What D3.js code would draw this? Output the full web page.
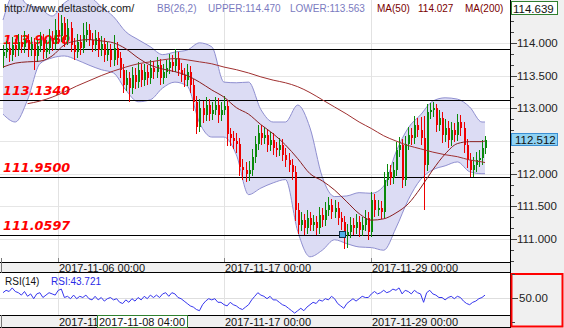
<!DOCTYPE html>
<html><head><meta charset="utf-8">
<script src="https://cdn.jsdelivr.net/npm/d3@7"></script>
<style>
html,body{margin:0;padding:0;background:#fff;}
svg{display:block;font-family:"Liberation Sans",Arial,sans-serif;}
</style></head><body>
<svg id="c" width="564" height="328"></svg>
<script>
// ---------- DATA ----------
const opens=[113.80,113.86,113.92,113.82,113.97,113.89,114.02,113.94,114.05,113.89,
113.98,113.80,113.95,114.05,113.86,113.92,114.08,113.98,114.20,114.11,
114.30,114.05,114.23,113.97,113.86,114.02,113.92,114.12,114.20,114.05,
113.97,114.08,113.89,113.98,113.82,113.89,113.74,113.92,113.77,113.59,
113.36,113.46,113.31,113.51,113.40,113.59,113.43,113.56,113.46,113.62,
113.56,113.66,113.46,113.56,113.62,113.71,113.65,113.77,113.59,113.51,
113.43,113.56,113.36,113.10,112.72,113.01,112.90,113.05,112.92,112.98,
113.05,112.90,112.98,113.03,112.60,112.55,112.50,112.45,112.10,112.05,
112.00,112.06,112.25,112.45,112.62,112.55,112.59,112.44,112.52,112.39,
112.36,112.44,112.29,112.21,112.13,112.03,111.45,111.22,111.29,111.17,
111.32,111.22,111.26,111.17,111.37,111.29,111.45,111.52,111.42,111.48,
111.32,111.26,111.06,111.11,111.22,111.17,111.26,111.14,111.22,111.32,
111.11,111.60,111.45,111.48,111.42,111.91,112.03,111.94,112.06,112.36,
112.44,111.90,112.45,112.59,112.55,112.75,112.67,112.55,112.13,112.94,
112.98,113.01,112.75,112.85,112.59,112.70,112.52,112.67,112.59,112.79,
112.70,112.44,112.21,112.06,112.13,112.21,112.24,112.39];
const highs=[113.96,114.03,114.01,114.09,114.06,114.14,114.12,114.18,114.14,114.09,
114.07,114.05,114.16,114.14,114.04,114.21,114.18,114.36,114.45,114.43,
114.40,114.37,114.32,114.07,114.14,114.12,114.30,114.32,114.29,114.15,
114.20,114.17,114.10,114.07,114.01,113.98,114.12,114.02,113.86,113.68,
113.58,113.55,113.63,113.61,113.71,113.68,113.68,113.66,113.74,113.72,
113.78,113.75,113.67,113.74,113.83,113.81,113.90,113.86,113.69,113.61,
113.67,113.65,113.45,113.19,113.14,113.11,113.18,113.14,113.10,113.17,
113.15,113.10,113.19,113.12,112.70,112.66,112.62,112.54,112.22,112.18,
112.20,112.37,112.58,112.75,112.74,112.72,112.69,112.64,112.62,112.49,
112.55,112.53,112.39,112.31,112.23,112.12,111.55,111.41,111.39,111.44,
111.42,111.37,111.36,111.49,111.47,111.57,111.64,111.62,111.60,111.57,
111.42,111.35,111.23,111.34,111.32,111.38,111.35,111.34,111.44,111.41,
111.72,111.69,111.60,111.58,112.03,112.15,112.13,112.18,112.48,112.56,
112.53,112.57,112.72,112.70,112.88,112.85,112.86,112.88,113.06,113.08,
113.10,113.07,112.98,112.94,112.83,112.80,112.79,112.77,112.92,112.89,
112.79,112.53,112.31,112.25,112.33,112.36,112.51,112.58];
const lows=[113.62,113.77,113.70,113.73,113.78,113.80,113.84,113.85,113.79,113.80,
113.59,113.71,113.86,113.76,113.77,113.83,113.88,113.89,113.99,114.02,
113.94,113.96,113.86,113.74,113.77,113.82,113.84,114.02,113.95,113.86,
113.88,113.79,113.80,113.71,113.72,113.63,113.65,113.66,113.47,113.24,
113.26,113.10,113.22,113.30,113.31,113.32,113.34,113.36,113.37,113.45,
113.47,113.35,113.37,113.47,113.53,113.55,113.56,113.49,113.40,113.32,
113.34,113.24,112.96,112.60,112.63,112.78,112.81,112.80,112.82,112.89,
112.78,112.80,112.89,112.42,112.42,112.38,112.32,111.96,111.90,111.88,
111.89,111.97,112.16,112.36,112.44,112.46,112.33,112.35,112.29,112.25,
112.27,112.19,112.10,112.02,111.91,111.28,111.08,111.12,111.06,111.08,
111.12,111.13,111.06,111.08,111.18,111.20,111.35,111.31,111.32,111.21,
111.14,110.85,110.86,111.01,111.06,111.08,111.03,111.05,111.12,110.99,
111.03,111.34,111.35,111.30,111.33,111.81,111.83,111.85,111.97,112.26,
111.78,111.81,112.36,112.44,112.46,112.56,112.44,111.45,112.04,112.83,
112.87,112.63,112.65,112.47,112.49,112.40,112.43,112.48,112.50,112.58,
112.32,112.09,111.95,111.95,112.03,112.10,112.14,112.30];
const closes=[113.86,113.92,113.82,113.97,113.89,114.02,113.94,114.05,113.89,113.98,
113.80,113.95,114.05,113.86,113.92,114.08,113.98,114.20,114.11,114.30,
114.05,114.23,113.97,113.86,114.02,113.92,114.12,114.20,114.05,113.97,
114.08,113.89,113.98,113.82,113.89,113.74,113.92,113.77,113.59,113.36,
113.46,113.31,113.51,113.40,113.59,113.43,113.56,113.46,113.62,113.56,
113.66,113.46,113.56,113.62,113.71,113.65,113.77,113.59,113.51,113.43,
113.56,113.36,113.10,112.72,113.01,112.90,113.05,112.92,112.98,113.05,
112.90,112.98,113.03,112.60,112.55,112.50,112.45,112.10,112.05,112.00,
112.06,112.25,112.45,112.62,112.55,112.59,112.44,112.52,112.39,112.36,
112.44,112.29,112.21,112.13,112.03,111.45,111.22,111.29,111.17,111.32,
111.22,111.26,111.17,111.37,111.29,111.45,111.52,111.42,111.48,111.32,
111.26,111.06,111.11,111.22,111.17,111.26,111.14,111.22,111.32,111.11,
111.60,111.45,111.48,111.42,111.91,112.03,111.94,112.06,112.36,112.44,
111.90,112.45,112.59,112.55,112.75,112.67,112.55,112.13,112.94,112.98,
113.01,112.75,112.85,112.59,112.70,112.52,112.67,112.59,112.79,112.70,
112.44,112.21,112.06,112.13,112.21,112.24,112.39,112.51];

// indicator values read every 4th candle (last candle appended)
const indIdx=d3.range(0,157,4).concat([157]);
const bbUpper=[114.35,114.77,114.58,114.53,114.41,114.61,114.70,114.70,114.55,114.40,
114.17,114.05,113.94,113.82,113.86,113.89,114.00,113.94,113.40,113.39,
113.40,112.98,112.79,112.79,113.05,112.70,111.95,111.65,111.66,111.71,
111.70,111.81,112.33,112.70,112.90,113.11,113.16,113.14,113.02,112.79,112.79];
const bbLower=[112.91,112.79,113.13,113.68,113.77,113.80,113.74,113.66,113.59,113.54,
113.28,113.10,113.13,113.31,113.40,113.34,112.78,112.56,112.56,112.29,
111.68,111.78,111.86,111.91,111.12,110.73,110.83,110.99,110.93,110.88,
110.87,110.83,111.17,111.60,111.91,112.06,112.12,112.18,112.03,112.00,112.00];
const ma50=[113.63,113.69,113.71,113.72,113.80,113.97,114.03,114.05,114.03,114.00,
113.91,113.77,113.66,113.60,113.56,113.50,113.40,113.28,113.17,113.01,
112.91,112.75,112.61,112.44,112.23,112.00,111.89,111.75,111.57,111.39,
111.29,111.31,111.40,111.54,111.78,112.06,112.30,112.46,112.49,112.49,112.50];
const ma200=[null,null,113.07,113.11,113.17,113.25,113.34,113.42,113.50,113.57,
113.63,113.68,113.71,113.74,113.76,113.74,113.71,113.68,113.63,113.59,
113.54,113.48,113.43,113.39,113.33,113.24,113.13,113.02,112.91,112.79,
112.69,112.58,112.50,112.43,112.38,112.33,112.29,112.26,112.21,112.18,112.17];

const rsi=[54,56,55,58,55,54,52,55,51,53,
49,53,54,50,52,54,53,52,56,57,
50,51,49,52,49,51,50,52,49,48,
51,48,50,47,49,50,48,49,46,45,
48,46,49,47,50,48,51,49,52,50,
52,50,53,54,51,54,53,50,49,47,
45,43,42,40,39,44,47,49,48,49,
46,46,44,43,46,44,43,41,40,42,
44,48,51,54,52,51,49,51,48,48,
46,44,43,41,39,37,39,41,39,42,
44,46,45,48,47,49,48,51,49,45,
43,41,45,47,49,47,49,51,50,50,
53,55,53,54,56,54,55,57,56,58,
53,56,55,53,56,54,53,46,54,56,
53,52,50,50,48,50,51,49,51,50,
47,45,44,46,47,49,50,52];

const levelValues=[113.9050,113.1340,111.9500,111.0597];
const levelLabels=["113.9050","113.1340","111.9500","111.0597"];
const priceTicks=[111.0,111.5,112.0,112.5,113.0,113.5,114.0];
const timeTickIndex=[18,72,120];
const timeTickLabels=["2017-11-06 00:00","2017-11-17 00:00","2017-11-29 00:00"];
const cursorIndex=31, cursorLabel="2017-11-08 04:00";
const markerIndex=110.6, markerPrice=111.0597;
const topPrice=114.639, lastPrice=112.512;
const headerTexts=[
  {t:"http://www.deltastock.com/",c:"#1a1a1a",s:11},
  {t:"BB(26,2)",c:"#7a7ac0",s:10},
  {t:"UPPER:114.470",c:"#7a7ac0",s:10},
  {t:"LOWER:113.563",c:"#7a7ac0",s:10},
  {t:"MA(50)",c:"#7a0000",s:10},
  {t:"114.027",c:"#7a0000",s:10},
  {t:"MA(200)",c:"#7a0000",s:10}];
const headerX=[4,157,208,290,377,418,465];
const rsiLabel="RSI(14)", rsiValueLabel="RSI:43.721";

// ---------- LAYOUT ----------
const PR=510, PB=262;
const svg=d3.select("#c");
const x=d3.scaleLinear().domain([0,157]).range([3,485]);
const y=d3.scaleLinear().domain([110.65,114.64]).range([262,1]);
const ry=d3.scaleLinear().domain([30,70]).range([321.5,273.5]);
const cr=v=>Math.round(v)+0.5;
const ly=Math.round(y(lastPrice));
const cx0=Math.round(x(cursorIndex))-1;

const defs=svg.append("defs");
defs.append("clipPath").attr("id","cm").append("rect").attr("x",0).attr("y",0).attr("width",PR).attr("height",PB);
defs.append("clipPath").attr("id","cr").append("rect").attr("x",0).attr("y",273).attr("width",PR).attr("height",42);
const ca=defs.append("clipPath").attr("id","ca");
ca.append("rect").attr("x",PR).attr("y",0).attr("width",54).attr("height",ly-7);
ca.append("rect").attr("x",PR).attr("y",ly+6).attr("width",54).attr("height",273-ly-6);
defs.append("clipPath").attr("id","cb").append("rect").attr("x",0).attr("y",315).attr("width",cx0).attr("height",13);

svg.append("rect").attr("width",564).attr("height",328).attr("fill","#fff");
svg.append("rect").attr("x",PR).attr("y",0).attr("width",54).attr("height",328).attr("fill","#f0f0f0");
// strip backgrounds
svg.append("rect").attr("x",0).attr("y",262).attr("width",PR).attr("height",11).attr("fill","#f0f0f0");
svg.append("rect").attr("x",0).attr("y",315).attr("width",PR).attr("height",13).attr("fill","#f0f0f0");

const g=svg.append("g").attr("clip-path","url(#cm)");
// grid
g.selectAll(".hg").data(priceTicks).join("line")
  .attr("x1",0).attr("x2",PR).attr("y1",d=>cr(y(d))).attr("y2",d=>cr(y(d)))
  .attr("stroke","#e6e6e6");
g.selectAll(".vg").data(timeTickIndex).join("line")
  .attr("x1",d=>cr(x(d))).attr("x2",d=>cr(x(d))).attr("y1",0).attr("y2",PB)
  .attr("stroke","#e2e2e2");

// bollinger band
const band=indIdx.map((i,k)=>({i,up:bbUpper[k],lo:bbLower[k],m50:ma50[k],m200:ma200[k]}));
g.append("path").datum(band)
  .attr("d",d3.area().x(d=>x(d.i)).y0(d=>y(d.lo)).y1(d=>y(d.up)).curve(d3.curveMonotoneX))
  .attr("fill","#dcdcf4");
["up","lo"].forEach(k=>{
  g.append("path").datum(band)
   .attr("d",d3.line().x(d=>x(d.i)).y(d=>y(d[k])).curve(d3.curveMonotoneX))
   .attr("fill","none").attr("stroke","#8f8fd0").attr("stroke-width",1);
});

// level lines + labels
g.selectAll(".lv").data(levelValues).join("line")
  .attr("x1",0).attr("x2",PR).attr("y1",d=>cr(y(d))).attr("y2",d=>cr(y(d)))
  .attr("stroke","#000");
g.selectAll(".lt").data(levelValues).join("text")
  .attr("x",3).attr("y",d=>Math.round(y(d))-5)
  .attr("fill","#ff0000").attr("font-family","DejaVu Sans").attr("font-weight","bold")
  .attr("font-style","italic").attr("font-size","12.8px")
  .text((d,i)=>levelLabels[i]);

// candles
const cd=closes.map((c,i)=>({i,o:opens[i],h:highs[i],l:lows[i],c}));
const cg=g.append("g").attr("shape-rendering","crispEdges");
cd.forEach(d=>{
  const col=d.c>=d.o?"#0a8a0a":"#ee0000";
  const xc=Math.round(x(d.i));
  cg.append("rect").attr("x",xc).attr("width",1)
    .attr("y",y(d.h)).attr("height",Math.max(1,y(d.l)-y(d.h))).attr("fill",col);
  const t=Math.min(y(d.o),y(d.c)), b=Math.max(y(d.o),y(d.c));
  cg.append("rect").attr("x",xc).attr("width",2)
    .attr("y",t).attr("height",Math.max(1,b-t)).attr("fill",col);
});

// moving averages
g.append("path").datum(band)
  .attr("d",d3.line().x(d=>x(d.i)).y(d=>y(d.m200)).defined(d=>d.m200!=null).curve(d3.curveMonotoneX))
  .attr("fill","none").attr("stroke","#a03030").attr("stroke-width",1);
g.append("path").datum(band)
  .attr("d",d3.line().x(d=>x(d.i)).y(d=>y(d.m50)).curve(d3.curveMonotoneX))
  .attr("fill","none").attr("stroke","#8a1e1e").attr("stroke-width",1);

// marker
g.append("rect").attr("x",Math.round(x(markerIndex))-3.5).attr("y",Math.round(y(markerPrice))-3.5)
  .attr("width",6).attr("height",6).attr("fill","#4fb0e8").attr("stroke","#10324a");

// header
svg.selectAll(".hd").data(headerTexts).join("text")
  .attr("x",(d,i)=>headerX[i]).attr("y",11.5).attr("font-size",d=>d.s+"px")
  .attr("fill",d=>d.c).text(d=>d.t);

// right price axis
svg.append("line").attr("x1",PR+0.5).attr("x2",PR+0.5).attr("y1",0).attr("y2",328).attr("stroke","#000");
const minor=d3.range(110.6667,114.64,1/6).filter(v=>priceTicks.every(p=>Math.abs(p-v)>0.01));
svg.selectAll(".mt").data(minor).join("line")
  .attr("x1",PR+1).attr("x2",PR+4).attr("y1",d=>cr(y(d))).attr("y2",d=>cr(y(d))).attr("stroke","#444");
const ax=svg.append("g").attr("clip-path","url(#ca)");
ax.selectAll(".Mt").data(priceTicks).join("line")
  .attr("x1",PR+1).attr("x2",PR+7).attr("y1",d=>cr(y(d))).attr("y2",d=>cr(y(d))).attr("stroke","#444");
ax.selectAll(".ml").data(priceTicks).join("text")
  .attr("x",PR+7).attr("y",d=>y(d)+4).attr("font-size","11.5px").attr("fill","#222")
  .text(d=>d3.format(".3f")(d));
// top price box
svg.append("rect").attr("x",PR+1.5).attr("y",1.5).attr("width",46).attr("height",13)
  .attr("fill","#fff").attr("stroke","#2f7f2f");
svg.append("text").attr("x",PR+3).attr("y",12.5).attr("font-size","11.5px").attr("fill","#111")
  .text(d3.format(".3f")(topPrice));
// last price box
svg.append("rect").attr("x",PR+1.5).attr("y",ly-6.5).attr("width",46).attr("height",12)
  .attr("fill","#8fd2f2").attr("stroke","#3a8fd4");
svg.append("text").attr("x",PR+5).attr("y",ly+4).attr("font-size","11.5px").attr("fill","#111")
  .text(d3.format(".3f")(lastPrice));

// time strips
[262.5,272.5,315.5,327.5].forEach(v=>{
  svg.append("line").attr("x1",0).attr("x2",PR).attr("y1",v).attr("y2",v).attr("stroke","#000");
});
svg.append("line").attr("x1",1.5).attr("x2",1.5).attr("y1",258).attr("y2",273).attr("stroke","#777");
svg.append("line").attr("x1",1.5).attr("x2",1.5).attr("y1",315).attr("y2",328).attr("stroke","#777");
svg.selectAll(".tt").data(timeTickIndex).join("line")
  .attr("x1",d=>cr(x(d))).attr("x2",d=>cr(x(d))).attr("y1",258).attr("y2",262).attr("stroke","#888");
svg.selectAll(".tl").data(timeTickIndex).join("text")
  .attr("x",d=>Math.round(x(d))+1).attr("y",271.5).attr("font-size","11px").attr("fill","#111")
  .text((d,i)=>timeTickLabels[i]);
svg.selectAll(".bl").data(timeTickIndex).join("text")
  .attr("x",d=>Math.round(x(d))+1).attr("y",325.5).attr("font-size","11px").attr("fill","#111")
  .attr("clip-path",(d,i)=>i===0?"url(#cb)":null)
  .text((d,i)=>timeTickLabels[i]);

// RSI panel
const rg=svg.append("g").attr("clip-path","url(#cr)");
rg.append("line").attr("x1",0).attr("x2",PR).attr("y1",cr(ry(50))).attr("y2",cr(ry(50))).attr("stroke","#dedede");
rg.selectAll(".rv").data(timeTickIndex).join("line")
  .attr("x1",d=>cr(x(d))).attr("x2",d=>cr(x(d))).attr("y1",273).attr("y2",315).attr("stroke","#e2e2e2");
rg.append("path").datum(rsi)
  .attr("d",d3.line().x((d,i)=>x(i)).y(d=>ry(d)))
  .attr("fill","none").attr("stroke","#3636ee").attr("stroke-width",1);
svg.append("text").attr("x",5).attr("y",285).attr("font-size","10px").attr("fill","#111").text(rsiLabel);
svg.append("text").attr("x",51).attr("y",285).attr("font-size","10px").attr("fill","#2a2ae6").text(rsiValueLabel);

// RSI axis box
svg.append("rect").attr("x",PR+1.5).attr("y",274).attr("width",51).attr("height",52.5)
  .attr("fill","#f0f0f0").attr("stroke","#ff0000").attr("stroke-width",2);
[30,70].forEach(v=>svg.append("line").attr("x1",PR+2).attr("x2",PR+5).attr("y1",cr(ry(v))).attr("y2",cr(ry(v))).attr("stroke","#444"));
svg.append("line").attr("x1",PR+2).attr("x2",PR+8).attr("y1",cr(ry(50))).attr("y2",cr(ry(50))).attr("stroke","#444");
svg.append("text").attr("x",PR+9).attr("y",ry(50)+4).attr("font-size","11.5px").attr("fill","#222").text(d3.format(".2f")(50));

// cursor time box
svg.append("rect").attr("x",cx0+0.5).attr("y",315.5).attr("width",90).attr("height",12)
  .attr("fill","#fff").attr("stroke","#2f7f2f");
svg.append("text").attr("x",cx0+2).attr("y",325.5).attr("font-size","11px").attr("fill","#111").text(cursorLabel);
</script>
</body></html>
